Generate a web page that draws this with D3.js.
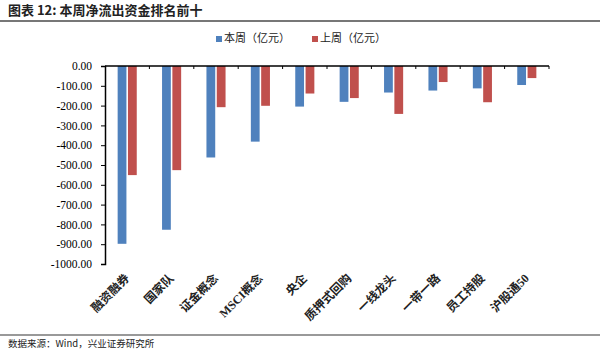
<!DOCTYPE html>
<html>
<head>
<meta charset="utf-8">
<script src="https://cdn.jsdelivr.net/npm/d3@7"></script>
<style>
  body { margin: 0; background: #fff; }
  svg { display: block; }
</style>
</head>
<body>
<div id="chart"></div>
<script>
// categories and values (亿元)
const categories = ["融资融券", "国家队", "证金概念", "MSCI概念", "央企", "质押式回购", "一线龙头", "一带一路", "员工持股", "沪股通50"];
const thisWeek = [-898, -827, -462, -382, -205, -181, -134, -124, -113, -96];
const lastWeek = [-551, -526, -208, -201, -139, -162, -242, -81, -183, -61];
const seriesNames = ["本周（亿元）", "上周（亿元）"];
const colors = ["#4F81BD", "#C0504D"];
const yTicks = [0, -100, -200, -300, -400, -500, -600, -700, -800, -900, -1000];

const W = 600, H = 350;
const plot = { left: 105, right: 549, top: 66, bottom: 264 };

const svg = d3.select("#chart").append("svg")
  .attr("width", W)
  .attr("height", H);

// title
svg.append("text")
  .attr("x", 8).attr("y", 15)
  .style("font-family", "'Noto Sans CJK SC', sans-serif")
  .style("font-size", "13px")
  .style("font-weight", "bold")
  .style("fill", "#222")
  .text("图表 12:  本周净流出资金排名前十");

svg.append("line")
  .attr("x1", 0).attr("x2", W)
  .attr("y1", 21).attr("y2", 21)
  .attr("stroke", "#777").attr("stroke-width", 2);

// scales
const x0 = d3.scaleBand().domain(categories)
  .range([plot.left, plot.right])
  .paddingInner(0.5).paddingOuter(0.25);
const x1 = d3.scaleBand().domain([0, 1])
  .range([0, x0.bandwidth()])
  .padding(0.15);
const y = d3.scaleLinear().domain([0, -1000]).range([plot.top, plot.bottom]);

// bars
const data = categories.map((c, i) => ({ cat: c, vals: [thisWeek[i], lastWeek[i]] }));
const groups = svg.selectAll("g.grp")
  .data(data).enter().append("g")
  .attr("class", "grp")
  .attr("transform", d => `translate(${x0(d.cat)},0)`);
groups.selectAll("rect")
  .data(d => d.vals.map((v, k) => ({ v, k })))
  .enter().append("rect")
  .attr("x", d => x1(d.k))
  .attr("width", x1.bandwidth())
  .attr("y", y(0))
  .attr("height", d => y(d.v) - y(0))
  .attr("fill", d => colors[d.k]);

// y axis
const yAxis = d3.axisLeft(y).tickValues(yTicks).tickSize(4)
  .tickFormat(d => d3.format(".2f")(d).replace("−", "-"));
const yg = svg.append("g")
  .attr("transform", `translate(${plot.left},0)`)
  .call(yAxis);
yg.select(".domain").attr("stroke", "#000").attr("stroke-width", 1.5);
yg.selectAll(".tick line").attr("stroke", "#000");
yg.selectAll("text")
  .attr("x", -13)
  .style("font-family", "'Liberation Serif', serif")
  .style("font-size", "11.5px")
  .style("fill", "#000");

// x axis (at zero, top of plot)
const xBound = d3.scaleLinear().domain([0, categories.length]).range([plot.left, plot.right]);
const xg = svg.append("g");
xg.append("line")
  .attr("x1", plot.left).attr("x2", plot.right)
  .attr("y1", y(0)).attr("y2", y(0))
  .attr("stroke", "#000").attr("stroke-width", 1.5);
xg.selectAll("line.tk")
  .data(d3.range(1, categories.length + 1))
  .enter().append("line")
  .attr("class", "tk")
  .attr("x1", d => xBound(d)).attr("x2", d => xBound(d))
  .attr("y1", y(0)).attr("y2", y(0) + 3)
  .attr("stroke", "#000");

// category labels
svg.selectAll("text.cat")
  .data(categories).enter().append("text")
  .attr("class", "cat")
  .attr("transform", d => `translate(${x0(d) + x0.bandwidth() / 2 + 3},${plot.bottom + 15}) rotate(-45)`)
  .attr("text-anchor", "end")
  .style("font-family", "'Liberation Serif', 'Noto Sans CJK SC', serif")
  .style("font-size", "12px")
  .style("font-weight", "bold")
  .style("fill", "#222")
  .text(d => d);

// legend
const legendX = [216, 312];
const leg = svg.selectAll("g.leg")
  .data(seriesNames).enter().append("g")
  .attr("class", "leg")
  .attr("transform", (d, i) => `translate(${legendX[i]},42)`);
leg.append("rect")
  .attr("x", 0).attr("y", -6)
  .attr("width", 6).attr("height", 6)
  .attr("fill", (d, i) => colors[i]);
leg.append("text")
  .attr("x", 8).attr("y", 0)
  .style("font-family", "'Noto Sans CJK SC', sans-serif")
  .style("font-size", "11px")
  .style("fill", "#222")
  .text(d => d);

// footer
svg.append("line")
  .attr("x1", 0).attr("x2", W)
  .attr("y1", 335).attr("y2", 335)
  .attr("stroke", "#777").attr("stroke-width", 1.5);
svg.append("text")
  .attr("x", 8).attr("y", 347)
  .style("font-family", "'Noto Sans CJK SC', sans-serif")
  .style("font-size", "9.5px")
  .style("fill", "#222")
  .text("数据来源：Wind，兴业证券研究所");
</script>
</body>
</html>
